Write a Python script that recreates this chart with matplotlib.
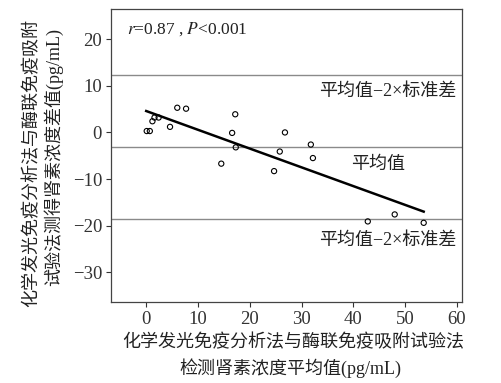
import numpy as np
import matplotlib
matplotlib.use('Agg')
import matplotlib.pyplot as plt

plt.rcParams['font.family'] = ['Liberation Serif', 'Noto Sans CJK SC']
plt.rcParams['axes.unicode_minus'] = True

# Bland-Altman data
mean_vals = [0.1, 0.7, 1.2, 1.6, 2.4, 4.6, 6.0, 7.7, 17.2, 16.6,
             17.3, 14.5, 26.8, 25.8, 24.7, 31.8, 32.2, 42.8, 48.0, 53.6]
diff_vals = [0.3, 0.3, 2.4, 3.2, 3.2, 1.2, 5.3, 5.1, 3.9, -0.1,
             -3.2, -6.7, 0.0, -4.1, -8.3, -2.6, -5.5, -19.1, -17.6, -19.4]

# regression line end points
fit_x = [0.0, 53.6]
fit_y = [4.6, -17.0]

mean_diff = -3.1
upper_limit = 12.3
lower_limit = -18.5

x_ticks = [0, 10, 20, 30, 40, 50, 60]
y_ticks = [-30, -20, -10, 0, 10, 20]

W, H = 502, 383
fig = plt.figure(figsize=(W / 100, H / 100), dpi=100)
ax = fig.add_axes([111 / W, 1 - 302 / H, (462 - 111) / W, (302 - 9) / H])

line_color = '#8a8a8a'
for yv in [upper_limit, mean_diff, lower_limit]:
    ax.axhline(yv, color=line_color, lw=1.0, zorder=1)

ax.plot(fit_x, fit_y, color='black', lw=1.8, zorder=2)
ax.scatter(mean_vals, diff_vals, s=14, facecolors='none',
           edgecolors='black', linewidths=0.8, zorder=3)

ax.set_xlim(-6.8, 61)
ax.set_ylim(-36.4, 26.5)
ax.set_xticks(x_ticks)
ax.set_yticks(y_ticks)
ax.tick_params(direction='out', length=3.5, width=0.8, labelsize=13.5,
               colors='#333333', pad=3)
for s in ax.spines.values():
    s.set_color('#444444')
    s.set_linewidth(0.9)

txt_color = '#222222'
ytr = ax.get_yaxis_transform()
ax.text(0.045, 0.93, r'$r$=0.87 , $P$<0.001', transform=ax.transAxes,
        fontsize=12.5, color=txt_color, va='center', ha='left',
        math_fontfamily='stix')
ax.text(0.985, upper_limit - 3.6, '平均值\u22122×标准差', transform=ytr,
        ha='right', va='center', fontsize=13, color=txt_color)
ax.text(0.76, mean_diff - 3.8, '平均值', transform=ytr,
        ha='center', va='center', fontsize=13, color=txt_color)
ax.text(0.985, lower_limit - 4.6, '平均值\u22122×标准差', transform=ytr,
        ha='right', va='center', fontsize=13, color=txt_color)

fig.text(293 / W, 1 - 343 / H, '化学发光免疫分析法与酶联免疫吸附试验法',
         ha='center', va='center', fontsize=13, color=txt_color)
fig.text(290 / W, 1 - 368 / H, '检测肾素浓度平均值(pg/mL)',
         ha='center', va='center', fontsize=13, color=txt_color)
fig.text(32 / W, 1 - 163 / H, '化学发光免疫分析法与酶联免疫吸附',
         ha='center', va='center', rotation=90, fontsize=13, color=txt_color)
fig.text(53 / W, 1 - 157 / H, '试验法测得肾素浓度差值(pg/mL)',
         ha='center', va='center', rotation=90, fontsize=13, color=txt_color)

fig.savefig('out.png', dpi=100)
